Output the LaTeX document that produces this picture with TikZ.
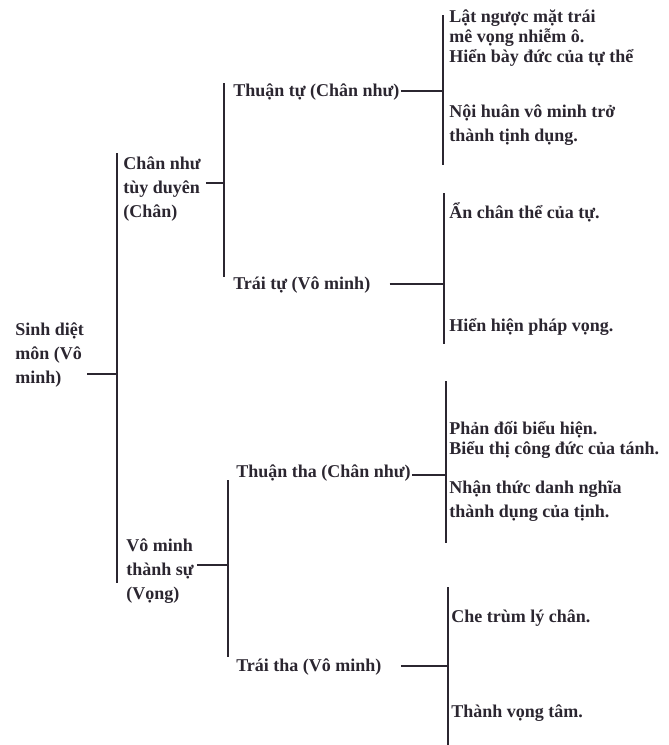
\documentclass[tikz,border=0pt]{standalone}
\usepackage{fontspec}
\setmainfont{Liberation Serif}
\usepackage{tikz}
\usetikzlibrary{positioning}
\definecolor{treeink}{HTML}{2B2630}

\begin{document}
\begin{tikzpicture}[x=0.5pt,y=-0.5pt,line width=1.3pt,
  lbl/.style={anchor=west,inner sep=0pt,align=left,text=treeink,font=\bfseries\fontsize{9}{12}\selectfont},
  leaf/.style={lbl,font=\bfseries\fontsize{9}{10}\selectfont},
  bar/.style={draw=treeink}]
\useasboundingbox (0,0) rectangle (669,745);
% labels of the tree
\node[lbl] (root) at (14,355) {Sinh diệt\\môn (Vô\\minh)};
\node[lbl] (chan) at (122,189) {Chân như\\tùy duyên\\(Chân)};
\node[lbl] (vong) at (125,571) {Vô minh\\thành sự\\(Vọng)};
\node[lbl] (thuantu) at (232,92) {Thuận tự (Chân như)};
\node[lbl] (traitu) at (232,285) {Trái tự (Vô minh)};
\node[lbl] (thuantha) at (235,473) {Thuận tha (Chân như)};
\node[lbl] (traitha) at (235,667) {Trái tha (Vô minh)};
\node[leaf] (latnguoc) at (448,38) {Lật ngược mặt trái\\mê vọng nhiễm ô.\\Hiển bày đức của tự thể};
\node[lbl] (noihuan) at (448,125) {Nội huân vô minh trở\\thành tịnh dụng.};
\node[leaf] (anchan) at (448,212) {Ẩn chân thể của tự.};
\node[leaf] (hienhien) at (448,327) {Hiển hiện pháp vọng.};
\node[leaf] (phandoi) at (448,440) {Phản đối biểu hiện.\\Biểu thị công đức của tánh.};
\node[lbl] (nhanthuc) at (448,501) {Nhận thức danh nghĩa\\thành dụng của tịnh.};
\node[leaf] (chetrum) at (450,618) {Che trùm lý chân.};
\node[leaf] (thanhvong) at (450,713) {Thành vọng tâm.};
% vertical bars and their joints
\foreach \n/\x/\t/\b/\j in {b0/117/153/583/374, b1/224/83/277/183, b2/228/480/657/565,
    b3/443/15/165/91, b4/444/193/344/284, b5/446/381/543/475, b6/448/587/745/666}{
  \coordinate (\n t) at (\x,\t);
  \coordinate (\n b) at (\x,\b);
  \coordinate (\n j) at (\x,\j);
  \draw[bar] (\n t) -- (\n b);
}
\draw[bar] ([xshift=1pt]root.east |- b0j) -- (b0j);
\draw[bar] ([xshift=2pt]chan.east |- b1j) -- (b1j);
\draw[bar] ([xshift=1pt]vong.east |- b2j) -- (b2j);
\draw[bar] (thuantu.east |- b3j) -- (b3j);
\draw[bar] ([xshift=9pt]traitu.east |- b4j) -- (b4j);
\draw[bar] (thuantha.east |- b5j) -- (b5j);
\draw[bar] ([xshift=9pt]traitha.east |- b6j) -- (b6j);
\end{tikzpicture}
\end{document}
